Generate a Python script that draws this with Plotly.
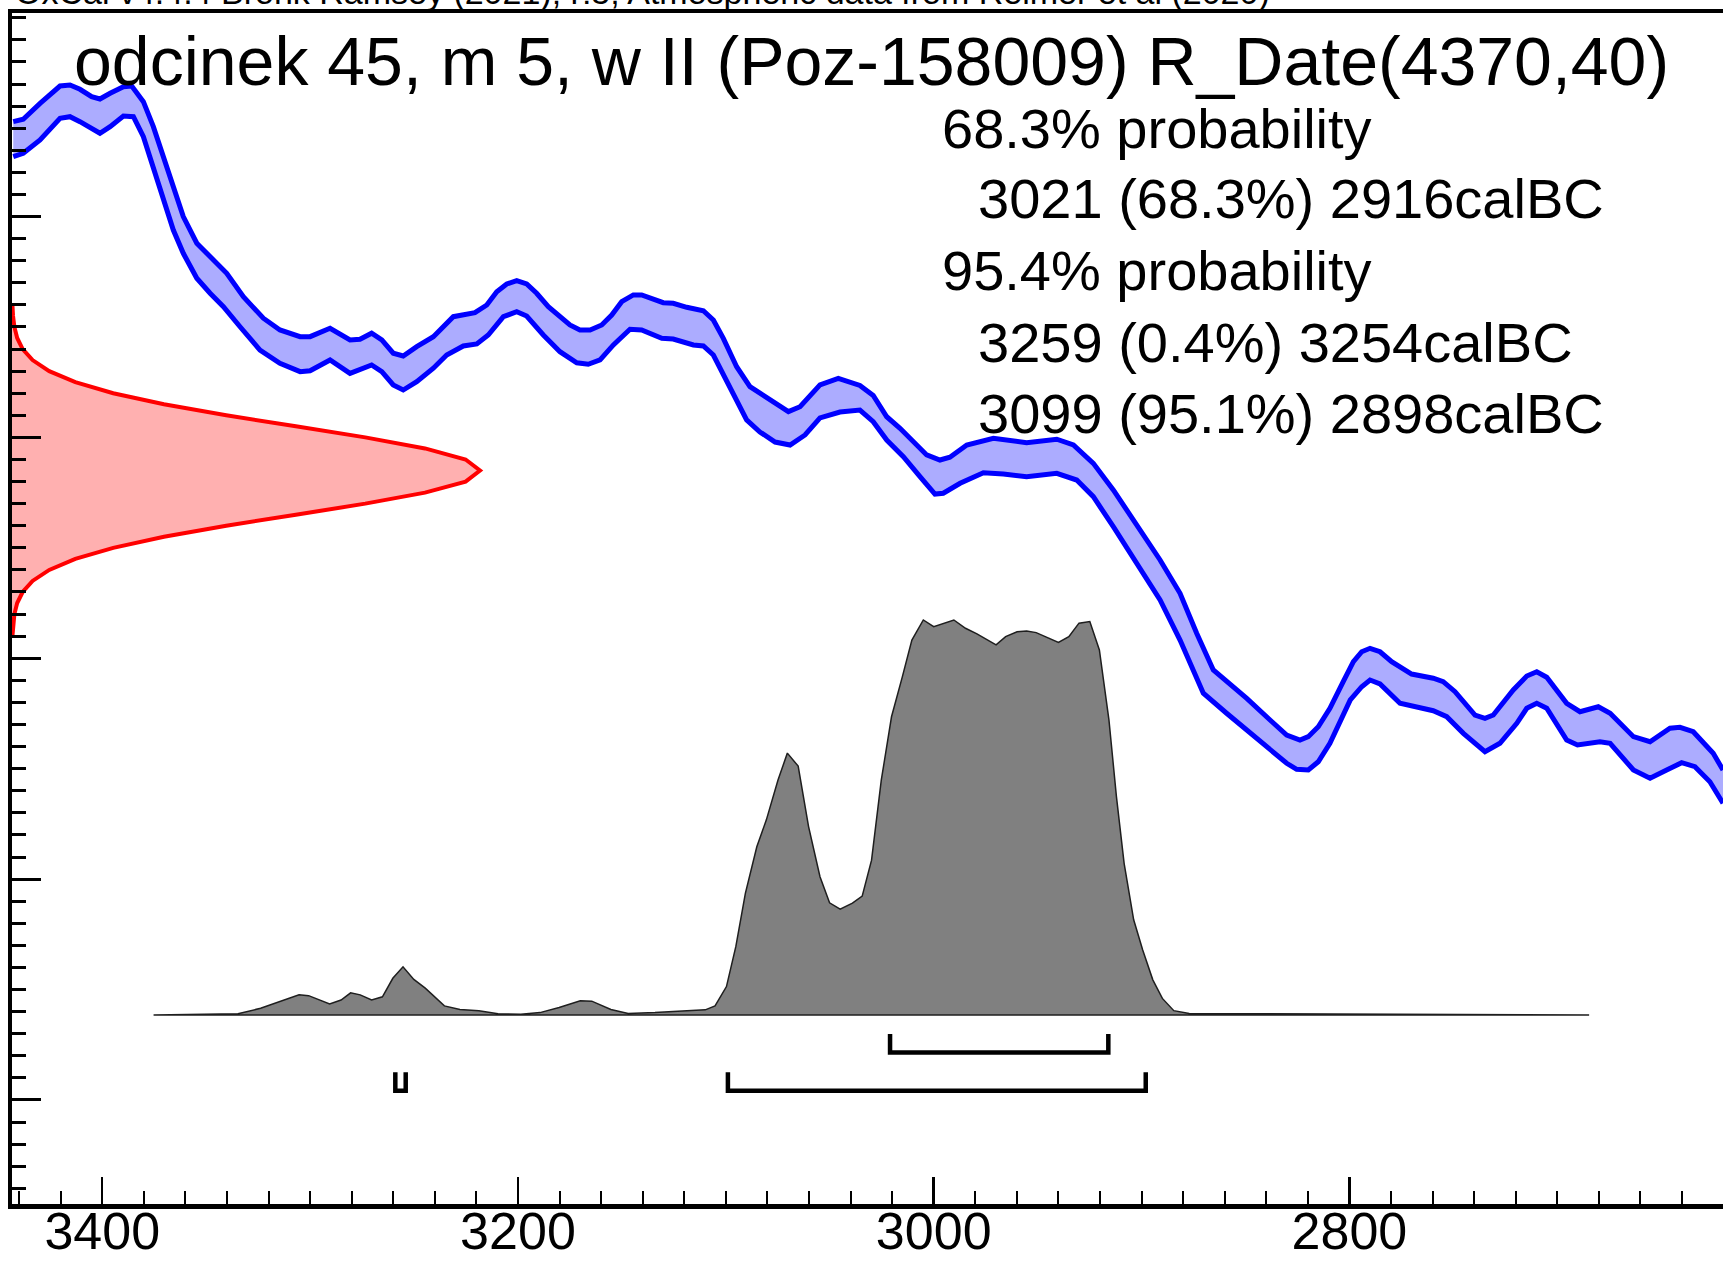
import plotly.graph_objects as go

# ---------------- data ----------------
# Calibration curve (IntCal20 band): calendar years BC vs radiocarbon age BP
cal_upper_year = [3442.8, 3438.0, 3429.9, 3420.3, 3415.5, 3410.7, 3405.1, 3401.1, 3396.2, 3389.8, 3385.8, 3380.2,
                  3375.4, 3370.6, 3365.8, 3361.0, 3354.5, 3348.1, 3340.1, 3332.1, 3322.5, 3314.5, 3304.8, 3300.0,
                  3290.4, 3280.8, 3276.0, 3270.4, 3265.5, 3260.0, 3255.2, 3248.7, 3240.7, 3231.1, 3220.7, 3215.0,
                  3210.2, 3205.4, 3200.6, 3195.8, 3191.0, 3185.4, 3181.4, 3175.0, 3170.2, 3165.3, 3159.7, 3154.9,
                  3150.1, 3144.5, 3140.5, 3134.9, 3130.1, 3125.3, 3118.8, 3110.8, 3106.0, 3101.2, 3094.8, 3088.4,
                  3080.3, 3069.9, 3064.3, 3054.7, 3045.9, 3035.5, 3029.1, 3022.6, 3016.2, 3009.8, 3003.4, 2997.0,
                  2992.2, 2984.1, 2971.3, 2955.3, 2940.8, 2932.8, 2923.2, 2913.6, 2904.0, 2891.1, 2881.5, 2873.5,
                  2865.5, 2857.5, 2849.4, 2838.2, 2830.2, 2823.8, 2819.8, 2815.0, 2809.4, 2803.0, 2798.1, 2794.1,
                  2790.1, 2785.3, 2779.7, 2770.1, 2759.7, 2754.9, 2749.2, 2739.6, 2734.8, 2730.8, 2721.2, 2714.7,
                  2709.9, 2705.1, 2695.5, 2689.1, 2680.3, 2674.6, 2663.4, 2655.4, 2645.8, 2641.0, 2634.6, 2625.0,
                  2620.3]
cal_upper_bp = [4685.9, 4688.1, 4702.5, 4718.2, 4719.1, 4715.2, 4708.5, 4706.4, 4711.6, 4717.6, 4718.2, 4704.0,
                4681.4, 4654.2, 4624.0, 4599.9, 4575.8, 4563.6, 4548.6, 4527.4, 4507.9, 4497.3, 4491.2, 4491.2,
                4498.8, 4488.2, 4488.8, 4494.3, 4488.2, 4476.2, 4473.7, 4482.1, 4491.2, 4509.3, 4512.9, 4519.9,
                4531.9, 4538.9, 4541.9, 4538.9, 4530.5, 4518.4, 4512.4, 4501.8, 4497.3, 4497.3, 4501.8, 4510.8,
                4522.9, 4529.0, 4529.0, 4525.1, 4522.0, 4521.4, 4517.8, 4514.7, 4506.3, 4489.7, 4464.0, 4445.9,
                4435.4, 4423.3, 4427.8, 4447.5, 4453.5, 4447.0, 4438.0, 4418.7, 4408.2, 4396.1, 4384.1, 4379.5,
                4382.0, 4393.1, 4399.2, 4395.2, 4398.3, 4393.1, 4376.5, 4352.4, 4325.2, 4289.0, 4258.8, 4222.6,
                4189.4, 4177.3, 4163.7, 4144.1, 4130.5, 4126.0, 4129.0, 4138.0, 4154.7, 4178.8, 4196.9, 4205.9,
                4209.0, 4205.9, 4196.9, 4185.7, 4181.9, 4178.8, 4169.7, 4148.6, 4145.6, 4148.6, 4171.3, 4183.9,
                4187.8, 4182.8, 4159.2, 4151.6, 4156.1, 4150.2, 4129.0, 4124.4, 4136.6, 4137.5, 4133.5, 4113.9,
                4098.8]
cal_lower_year = [3442.8, 3438.0, 3429.9, 3420.3, 3415.5, 3410.7, 3401.1, 3396.2, 3389.8, 3385.0, 3380.2, 3375.4,
                  3370.6, 3365.8, 3361.0, 3354.5, 3348.1, 3341.7, 3333.7, 3324.1, 3314.5, 3304.8, 3300.0, 3290.4,
                  3280.8, 3276.0, 3270.4, 3265.5, 3260.0, 3255.2, 3248.7, 3240.7, 3234.3, 3226.3, 3219.8, 3214.3,
                  3207.0, 3200.6, 3195.8, 3187.8, 3179.8, 3171.7, 3166.2, 3160.5, 3154.1, 3146.1, 3140.5, 3130.8,
                  3125.3, 3115.6, 3110.8, 3106.0, 3099.6, 3093.2, 3090.0, 3083.6, 3076.3, 3069.1, 3061.9, 3054.7,
                  3045.1, 3035.5, 3029.1, 3022.6, 3014.6, 3006.6, 2999.4, 2995.4, 2987.3, 2976.1, 2966.5, 2955.3,
                  2940.8, 2931.2, 2923.2, 2913.6, 2902.3, 2891.1, 2881.5, 2870.3, 2859.1, 2849.4, 2838.2, 2830.2,
                  2825.4, 2819.8, 2815.0, 2809.4, 2799.6, 2794.1, 2790.1, 2785.3, 2775.7, 2769.3, 2759.7, 2753.2,
                  2745.2, 2734.8, 2727.6, 2719.5, 2714.7, 2709.9, 2705.1, 2695.5, 2690.3, 2679.5, 2674.6, 2663.4,
                  2655.4, 2647.4, 2640.2, 2633.8, 2626.6, 2620.3]
cal_lower_bp = [4654.2, 4657.3, 4669.3, 4689.0, 4690.4, 4685.9, 4675.4, 4681.4, 4691.0, 4690.4, 4672.3, 4645.1,
                4615.0, 4587.8, 4566.7, 4544.1, 4530.5, 4518.4, 4500.2, 4479.1, 4467.1, 4459.5, 4460.4, 4470.1,
                4458.0, 4461.0, 4465.6, 4459.5, 4447.5, 4442.9, 4450.4, 4462.6, 4474.6, 4482.8, 4484.6, 4492.7,
                4509.3, 4513.8, 4509.9, 4492.7, 4477.6, 4467.6, 4466.2, 4470.1, 4483.7, 4497.9, 4497.3, 4489.7,
                4489.1, 4483.7, 4482.8, 4474.6, 4452.0, 4427.8, 4415.8, 4404.9, 4395.8, 4393.1, 4402.2, 4417.6,
                4423.0, 4424.8, 4414.2, 4397.6, 4382.5, 4364.4, 4348.7, 4349.4, 4358.4, 4368.0, 4366.9, 4364.4,
                4367.5, 4361.4, 4346.3, 4319.1, 4286.0, 4252.8, 4216.5, 4168.3, 4150.2, 4135.0, 4116.9, 4104.9,
                4099.4, 4098.8, 4106.3, 4123.0, 4162.2, 4174.2, 4180.3, 4176.7, 4159.2, 4156.8, 4152.5, 4147.1,
                4132.0, 4115.4, 4123.0, 4141.1, 4154.7, 4159.2, 4154.7, 4126.0, 4121.5, 4124.4, 4123.0, 4098.8,
                4091.3, 4098.8, 4105.4, 4101.8, 4088.2, 4068.7]

# Radiocarbon measurement R_Date(4370,40): relative likelihood vs BP
rdate_bp = [4220, 4230, 4240, 4250, 4260, 4270, 4280, 4290, 4300, 4310, 4320, 4330, 4340, 4350, 4360, 4370,
            4380, 4390, 4400, 4410, 4420, 4430, 4440, 4450, 4460, 4470, 4480, 4490, 4500, 4510, 4520]
rdate_dens = [0.0009, 0.0022, 0.0051, 0.0111, 0.0228, 0.0439, 0.0796, 0.1353, 0.2163, 0.3247, 0.4578, 0.6065,
              0.7548, 0.8825, 0.9692, 1.0, 0.9692, 0.8825, 0.7548, 0.6065, 0.4578, 0.3247, 0.2163, 0.1353,
              0.0796, 0.0439, 0.0228, 0.0111, 0.0051, 0.0022, 0.0009]

# Calibrated date distribution (relative probability vs cal BC)
hist_year = [3375.3, 3334.7, 3323.8, 3305.3, 3300.7, 3290.6, 3285.1, 3280.5, 3275.9, 3270.4, 3265.2, 3260.2,
             3255.3, 3250.1, 3244.6, 3235.4, 3227.9, 3218.8, 3209.6, 3198.6, 3189.4, 3180.2, 3170.0, 3164.5,
             3155.3, 3147.0, 3134.1, 3109.9, 3105.2, 3099.7, 3095.2, 3090.6, 3085.1, 3080.5, 3074.9, 3070.4,
             3065.2, 3060.2, 3054.7, 3050.1, 3045.0, 3039.1, 3034.4, 3029.9, 3025.2, 3020.3, 3015.1, 3010.5,
             3005.0, 3000.0, 2990.3, 2984.7, 2979.2, 2970.0, 2965.4, 2959.9, 2955.3, 2950.7, 2940.0, 2935.0,
             2930.1, 2924.9, 2920.3, 2915.7, 2912.1, 2908.4, 2903.8, 2899.5, 2894.6, 2890.0, 2884.5, 2877.1,
             2684.7]
hist_prob = [0, 0.003, 0.017, 0.051, 0.049, 0.028, 0.038, 0.056, 0.051, 0.038, 0.046, 0.093,
             0.122, 0.090, 0.068, 0.023, 0.014, 0.011, 0.003, 0.002, 0.006, 0.019, 0.036, 0.035,
             0.014, 0.004, 0.006, 0.013, 0.023, 0.072, 0.173, 0.308, 0.426, 0.494, 0.595, 0.663,
             0.630, 0.477, 0.350, 0.284, 0.268, 0.283, 0.301, 0.392, 0.595, 0.755, 0.856, 0.949,
             1.0, 0.983, 1.0, 0.979, 0.965, 0.937, 0.958, 0.970, 0.972, 0.968, 0.943, 0.958,
             0.992, 0.996, 0.924, 0.747, 0.553, 0.384, 0.241, 0.165, 0.089, 0.042, 0.011, 0.004,
             0]

# Highest posterior density ranges (from, to) cal BC
range_68 = [(3021, 2916)]
range_95 = [(3259, 3254), (3099, 2898)]

title_text = "odcinek 45, m 5, w II (Poz-158009) R_Date(4370,40)"
header_text = "OxCal v4.4.4 Bronk Ramsey (2021); r:5; Atmospheric data from Reimer et al (2020)"
prob_lines = ["68.3% probability",
              "  3021 (68.3%) 2916calBC",
              "95.4% probability",
              "  3259 (0.4%) 3254calBC",
              "  3099 (95.1%) 2898calBC"]

x_ticks = [2600, 2800, 3000, 3200, 3400]

# ---------------- figure ----------------
FONT = "Liberation Sans, Arial, Helvetica, sans-serif"
BLUE = "#0000ff"
fig = go.Figure()

# calibration band fill
fig.add_trace(go.Scatter(
    x=cal_upper_year + cal_lower_year[::-1],
    y=cal_upper_bp + cal_lower_bp[::-1],
    mode="lines", fill="toself", fillcolor="rgb(172,172,255)",
    line=dict(width=0), hoverinfo="skip"))
for xs, ys in ((cal_upper_year, cal_upper_bp), (cal_lower_year, cal_lower_bp)):
    fig.add_trace(go.Scatter(x=xs, y=ys, mode="lines",
                             line=dict(color=BLUE, width=5)))

# radiocarbon date likelihood (on overlay x axis, BP on main y)
fig.add_trace(go.Scatter(
    x=[0] + rdate_dens + [0], y=[rdate_bp[0]] + rdate_bp + [rdate_bp[-1]],
    xaxis="x2", yaxis="y", mode="lines", fill="toself",
    fillcolor="rgb(255,176,176)", line=dict(width=0)))
fig.add_trace(go.Scatter(
    x=rdate_dens, y=rdate_bp, xaxis="x2", yaxis="y", mode="lines",
    line=dict(color="#ff0000", width=4)))

# calibrated distribution (overlay y axis)
fig.add_trace(go.Scatter(
    x=hist_year + [hist_year[0]], y=hist_prob + [hist_prob[0]],
    xaxis="x", yaxis="y2", mode="lines", fill="toself",
    fillcolor="rgb(128,128,128)", line=dict(color="rgb(30,30,30)", width=1.5)))

# range brackets
for lvl_line, lvl_top, ranges in ((-0.095, -0.048, range_68), (-0.1916, -0.145, range_95)):
    for a, b in ranges:
        fig.add_trace(go.Scatter(
            x=[a, a, b, b], y=[lvl_top, lvl_line, lvl_line, lvl_top],
            xaxis="x", yaxis="y2", mode="lines",
            line=dict(color="black", width=4.5)))

# text
fig.add_annotation(text=title_text, xref="paper", yref="paper", x=0.50205, y=0.95937,
                   xanchor="center", yanchor="middle", showarrow=False,
                   font=dict(family=FONT, size=68, color="black"))
fig.add_annotation(text=header_text, xref="paper", yref="paper", x=0.0006, y=1.0175,
                   xanchor="left", yanchor="middle", showarrow=False,
                   font=dict(family=FONT, size=34, color="black"))
line_y = [0.90269, 0.84391, 0.78371, 0.72351, 0.66340]
for txt, yy in zip(prob_lines, line_y):
    indented = txt.startswith("  ")
    fig.add_annotation(text=txt.strip(), xref="paper", yref="paper",
                       x=0.56341 if indented else 0.54237, y=yy,
                       xanchor="left", yanchor="middle", showarrow=False,
                       font=dict(family=FONT, size=56, color="black"))

fig.update_layout(
    width=1723, height=1261,
    margin=dict(l=12, r=0, t=13, b=57, autoexpand=False),
    plot_bgcolor="white", paper_bgcolor="white", showlegend=False,
    xaxis=dict(range=[3443.4, 2620.3], showgrid=False, zeroline=False,
               showline=True, linecolor="black", linewidth=4.5, mirror=True,
               ticks="inside", ticklen=27, tickwidth=2.5, tickcolor="black",
               tickvals=x_ticks, ticktext=[str(v) for v in x_ticks],
               tickfont=dict(family=FONT, size=52, color="black"),
               minor=dict(ticks="inside", ticklen=13, tickwidth=2, dtick=20, tick0=0,
                          tickcolor="black", showgrid=False),
               automargin=False, ticklabelstandoff=-22),
    yaxis=dict(range=[3705.8, 4784.3], showgrid=False, zeroline=False,
               showline=True, linecolor="black", linewidth=4.5, mirror=False,
               ticks="inside", ticklen=29, tickwidth=3, tickcolor="black",
               dtick=200, tick0=0, showticklabels=False,
               minor=dict(ticks="inside", ticklen=14, tickwidth=3, dtick=20, tick0=0,
                          tickcolor="black", showgrid=False),
               automargin=False),
    xaxis2=dict(overlaying="x", anchor="y", range=[0, 3.656], visible=False),
    yaxis2=dict(overlaying="y", anchor="x", range=[-0.4785, 2.5367], visible=False),
)

fig.write_html("out.html",
               config={"displayModeBar": False, "staticPlot": True},
               post_script="document.body.style.margin='0px';"
                           "document.body.style.overflow='hidden';")
